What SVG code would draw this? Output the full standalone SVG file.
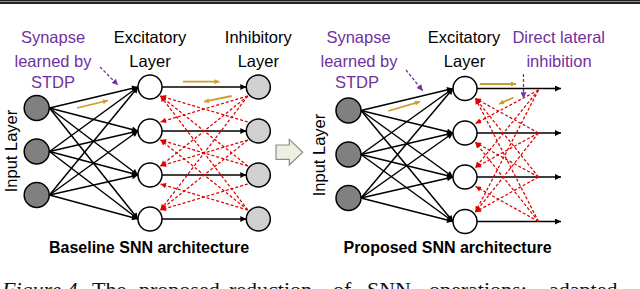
<svg xmlns="http://www.w3.org/2000/svg" width="640" height="289" viewBox="0 0 640 289">
<style>
text{font-family:"Liberation Sans",Arial,sans-serif;font-size:16.5px;fill:#000}
.pu{fill:#7030A0}
.ct{text-anchor:middle}
.bt{font-weight:bold;font-size:16px}
.cap{font-family:"Liberation Serif","Times New Roman",serif;font-size:22px;fill:#111}
.inp{fill:#808080;stroke:#000;stroke-width:1.5}
.exc{fill:#fff;stroke:#000;stroke-width:1.5}
.inh{fill:#d0d0d0;stroke:#000;stroke-width:1.5}
.bl{stroke:#000;stroke-width:1.5;fill:none;marker-end:url(#ab)}
.rd{stroke:#E00000;stroke-width:1.25;stroke-dasharray:3 2;fill:none;marker-end:url(#ar)}
.or{stroke:#C9A02A;stroke-width:1.8;fill:none;marker-end:url(#ao)}
.pd{stroke:#7030A0;stroke-width:1.3;stroke-dasharray:3 2;fill:none;marker-end:url(#ap)}
</style>
<defs>
<marker id="ab" viewBox="0 0 10 10" refX="10" refY="5" markerWidth="7" markerHeight="6" markerUnits="userSpaceOnUse" orient="auto"><path d="M0,0L10,5L0,10z" fill="#000"/></marker>
<marker id="ar" viewBox="0 0 10 10" refX="10" refY="5" markerWidth="7" markerHeight="5.5" markerUnits="userSpaceOnUse" orient="auto"><path d="M0,0L10,5L0,10z" fill="#E00000"/></marker>
<marker id="ao" viewBox="0 0 10 10" refX="10" refY="5" markerWidth="6" markerHeight="5" markerUnits="userSpaceOnUse" orient="auto"><path d="M0,0L10,5L0,10z" fill="#C9A02A"/></marker>
<marker id="ap" viewBox="0 0 10 10" refX="10" refY="5" markerWidth="7" markerHeight="6" markerUnits="userSpaceOnUse" orient="auto"><path d="M0,0L10,5L0,10z" fill="#7030A0"/></marker>
</defs>
<rect x="0" y="0" width="640" height="289" fill="#fff"/>
<rect x="0" y="0" width="640" height="4" fill="#222"/>
<rect x="0" y="1" width="640" height="0.9" fill="#999"/>

<g id="connectors">
<line class="bl" x1="49.5" y1="108" x2="138" y2="87"/>
<line class="bl" x1="49.5" y1="108" x2="138" y2="131"/>
<line class="bl" x1="49.5" y1="108" x2="138" y2="175"/>
<line class="bl" x1="49.5" y1="108" x2="138" y2="219"/>
<line class="bl" x1="49.5" y1="151.5" x2="138" y2="87"/>
<line class="bl" x1="49.5" y1="151.5" x2="138" y2="131"/>
<line class="bl" x1="49.5" y1="151.5" x2="138" y2="175"/>
<line class="bl" x1="49.5" y1="151.5" x2="138" y2="219"/>
<line class="bl" x1="49.5" y1="195" x2="138" y2="87"/>
<line class="bl" x1="49.5" y1="195" x2="138" y2="131"/>
<line class="bl" x1="49.5" y1="195" x2="138" y2="175"/>
<line class="bl" x1="49.5" y1="195" x2="138" y2="219"/>
<line class="bl" x1="162" y1="87" x2="246.3" y2="87"/>
<line class="bl" x1="162" y1="131" x2="246.3" y2="131"/>
<line class="bl" x1="162" y1="175" x2="246.3" y2="175"/>
<line class="bl" x1="162" y1="219" x2="246.3" y2="219"/>
<line class="rd" x1="247.8" y1="96" x2="160.5" y2="122"/>
<line class="rd" x1="247.8" y1="96" x2="160.5" y2="166"/>
<line class="rd" x1="247.8" y1="96" x2="160.5" y2="210"/>
<line class="rd" x1="247.8" y1="122" x2="160.5" y2="96"/>
<line class="rd" x1="247.8" y1="140" x2="160.5" y2="166"/>
<line class="rd" x1="247.8" y1="140" x2="160.5" y2="210"/>
<line class="rd" x1="247.8" y1="166" x2="160.5" y2="96"/>
<line class="rd" x1="247.8" y1="166" x2="160.5" y2="140"/>
<line class="rd" x1="247.8" y1="184" x2="160.5" y2="210"/>
<line class="rd" x1="247.8" y1="210" x2="160.5" y2="96"/>
<line class="rd" x1="247.8" y1="210" x2="160.5" y2="140"/>
<line class="rd" x1="247.8" y1="210" x2="160.5" y2="184"/>
<line class="bl" x1="361" y1="110.5" x2="453" y2="88.5"/>
<line class="bl" x1="361" y1="110.5" x2="453" y2="133"/>
<line class="bl" x1="361" y1="110.5" x2="453" y2="177"/>
<line class="bl" x1="361" y1="110.5" x2="453" y2="221.5"/>
<line class="bl" x1="361" y1="154.5" x2="453" y2="88.5"/>
<line class="bl" x1="361" y1="154.5" x2="453" y2="133"/>
<line class="bl" x1="361" y1="154.5" x2="453" y2="177"/>
<line class="bl" x1="361" y1="154.5" x2="453" y2="221.5"/>
<line class="bl" x1="361" y1="198" x2="453" y2="88.5"/>
<line class="bl" x1="361" y1="198" x2="453" y2="133"/>
<line class="bl" x1="361" y1="198" x2="453" y2="177"/>
<line class="bl" x1="361" y1="198" x2="453" y2="221.5"/>
<line class="bl" x1="477" y1="88.5" x2="561" y2="88.5"/>
<line class="bl" x1="477" y1="133" x2="561" y2="133"/>
<line class="bl" x1="477" y1="177" x2="561" y2="177"/>
<line class="bl" x1="477" y1="221.5" x2="561" y2="221.5"/>
<line class="rd" x1="538.5" y1="90" x2="475.5" y2="123.5"/>
<line class="rd" x1="538.5" y1="90" x2="475.5" y2="167.5"/>
<line class="rd" x1="538.5" y1="90" x2="475.5" y2="212"/>
<line class="rd" x1="538.5" y1="133" x2="475.5" y2="98.5"/>
<line class="rd" x1="538.5" y1="133" x2="475.5" y2="167.5"/>
<line class="rd" x1="538.5" y1="133" x2="475.5" y2="212"/>
<line class="rd" x1="538.5" y1="177" x2="475.5" y2="98.5"/>
<line class="rd" x1="538.5" y1="177" x2="475.5" y2="142.5"/>
<line class="rd" x1="538.5" y1="177" x2="475.5" y2="212"/>
<line class="rd" x1="538.5" y1="221.5" x2="475.5" y2="98.5"/>
<line class="rd" x1="538.5" y1="221.5" x2="475.5" y2="142.5"/>
<line class="rd" x1="538.5" y1="221.5" x2="475.5" y2="186.5"/>
<line class="or" x1="77" y1="108" x2="108" y2="100.5"/>
<line class="or" x1="183" y1="81.7" x2="219.5" y2="81.7"/>
<line class="or" x1="231.7" y1="96" x2="204" y2="101.7"/>
<line class="or" x1="388.3" y1="111" x2="420" y2="101.7"/>
<line class="or" x1="480" y1="84" x2="516" y2="84"/>
<line class="or" x1="513.5" y1="97.5" x2="499" y2="104"/>
<line class="pd" x1="100" y1="67" x2="118" y2="85"/>
<line class="pd" x1="406" y1="70" x2="422.7" y2="90.7"/>
<line class="pd" x1="523.5" y1="74" x2="523.5" y2="98.3"/>
</g>

<g id="left-input-layer">
<circle class="inp" cx="36.7" cy="108" r="12.5"/>
<circle class="inp" cx="36.7" cy="151.5" r="12.5"/>
<circle class="inp" cx="36.7" cy="195" r="12.5"/>
<text class="ct" transform="rotate(-90 17 151)" x="17" y="151">Input Layer</text>
</g>
<g id="left-excitatory-layer">
<circle class="exc" cx="150" cy="87" r="12"/>
<circle class="exc" cx="150" cy="131" r="12"/>
<circle class="exc" cx="150" cy="175" r="12"/>
<circle class="exc" cx="150" cy="219" r="12"/>
<text class="ct" x="150" y="43">Excitatory</text>
<text class="ct" x="150" y="66.5">Layer</text>
</g>
<g id="left-inhibitory-layer">
<circle class="inh" cx="258.3" cy="87" r="12"/>
<circle class="inh" cx="258.3" cy="131" r="12"/>
<circle class="inh" cx="258.3" cy="175" r="12"/>
<circle class="inh" cx="258.3" cy="219" r="12"/>
<text class="ct" x="258.3" y="43">Inhibitory</text>
<text class="ct" x="258.3" y="66.5">Layer</text>
</g>
<g id="left-stdp-note">
<text class="ct pu" x="53" y="43">Synapse</text>
<text class="ct pu" x="53" y="66.5">learned by</text>
<text class="ct pu" x="53" y="88">STDP</text>
</g>
<text class="ct bt" x="149" y="253">Baseline SNN architecture</text>

<g id="transition-arrow">
<polygon points="276,145 289.3,145 289.3,139.3 302.7,152.2 289.3,165 289.3,159.3 276,159.3" fill="#EBF1DE" stroke="#8C8C8C" stroke-width="1.2"/>
</g>

<g id="right-input-layer">
<circle class="inp" cx="348.5" cy="110.5" r="12.5"/>
<circle class="inp" cx="348.5" cy="154.5" r="12.5"/>
<circle class="inp" cx="348.5" cy="198" r="12.5"/>
<text class="ct" transform="rotate(-90 325 155)" x="325" y="155">Input Layer</text>
</g>
<g id="right-excitatory-layer">
<circle class="exc" cx="465" cy="88.5" r="12"/>
<circle class="exc" cx="465" cy="133" r="12"/>
<circle class="exc" cx="465" cy="177" r="12"/>
<circle class="exc" cx="465" cy="221.5" r="12"/>
<text class="ct" x="464" y="43">Excitatory</text>
<text class="ct" x="464.5" y="66.5">Layer</text>
</g>
<g id="right-stdp-note">
<text class="ct pu" x="358.5" y="43">Synapse</text>
<text class="ct pu" x="359" y="66.5">learned by</text>
<text class="ct pu" x="357" y="88">STDP</text>
</g>
<g id="right-lateral-note">
<text class="ct pu" x="558.7" y="43">Direct lateral</text>
<text class="ct pu" x="559" y="66.5">inhibition</text>
</g>
<text class="ct bt" x="447.5" y="253">Proposed SNN architecture</text>

<text class="cap" y="297"><tspan x="2" font-style="italic">Figure 4.</tspan><tspan x="92">The</tspan><tspan x="139">proposed</tspan><tspan x="229">reduction</tspan><tspan x="333">of</tspan><tspan x="367">SNN</tspan><tspan x="429">operations:</tspan><tspan x="549">adapted</tspan></text>
</svg>
